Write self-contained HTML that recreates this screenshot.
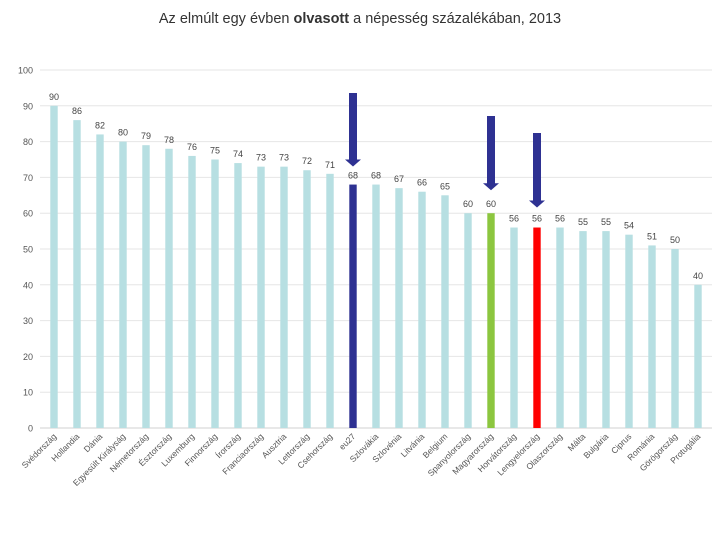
<!DOCTYPE html>
<html><head><meta charset="utf-8"><style>
body{margin:0;background:#fff;width:720px;height:540px;overflow:hidden;font-family:"Liberation Sans",sans-serif;}
</style></head><body>
<svg id="chart" width="720" height="540" xmlns="http://www.w3.org/2000/svg" font-family="Liberation Sans, sans-serif">
<text x="360" y="23" text-anchor="middle" font-size="14.5" fill="#333">Az elmúlt egy évben <tspan font-weight="bold">olvasott</tspan> a népesség százalékában, 2013</text>
<g id="grid"></g><g id="bars"></g><g id="labels"></g><g id="arrows"></g>
</svg>
<script>
const categories=["Svédország","Hollandia","Dánia","Egyesült Királyság","Németország","Észtország","Luxemburg","Finnország","Írország","Franciaország","Ausztria","Lettország","Csehország","eu27","Szlovákia","Szlovénia","Litvánia","Belgium","Spanyolország","Magyarország","Horvátország","Lengyelország","Olaszország","Málta","Bulgária","Ciprus","Románia","Görögország","Protugália"];
const values=[90,86,82,80,79,78,76,75,74,73,73,72,71,68,68,67,66,65,60,60,56,56,56,55,55,54,51,50,40];
const highlights={"eu27":"#2e3192","Magyarország":"#8cc63f","Lengyelország":"#ff0000"};
const arrowTargets=["eu27","Magyarország","Lengyelország"];
const arrowTops=[93,116,133];
const arrowGaps=[18,23,20];
const yTicks=[0,10,20,30,40,50,60,70,80,90,100];
const NS="http://www.w3.org/2000/svg";
const x0=40,x1=712,y0=428,y1=70,bx0=54,step=23,bw=7.4;
const y=v=>y0-(v/100)*(y0-y1);
const xc=i=>bx0+i*step;
function mk(t,a,p){const e=document.createElementNS(NS,t);for(const k in a)e.setAttribute(k,a[k]);p.appendChild(e);return e;}
const grid=document.getElementById('grid'),bars=document.getElementById('bars'),labels=document.getElementById('labels'),arrows=document.getElementById('arrows');
yTicks.forEach(t=>{
 const l=mk('line',{x1:x0,x2:x1,y1:y(t),y2:y(t),stroke:t===0?'#d0d0d0':'#e6e6e6','stroke-width':1},grid);
 
 
 const tx=mk('text',{x:33,y:y(t)+3.5,'text-anchor':'end','font-size':9,fill:'#555'},grid);
 tx.textContent=t;
 
 
});
categories.forEach((c,i)=>{
 const v=values[i];
 const r=mk('rect',{x:xc(i)-bw/2,y:y(v),width:bw,height:y0-y(v),fill:highlights[c]||'#b7dfe2'},bars);
 
 
 const vt=mk('text',{x:xc(i),y:y(v)-6,'text-anchor':'middle','font-size':9,fill:'#444'},labels);
 vt.textContent=v;
 
 
 const lt=mk('text',{x:0,y:0,'text-anchor':'end','font-size':8.5,fill:'#555',transform:`translate(${xc(i)+3},${y0+9}) rotate(-45)`},labels);
 lt.textContent=c;
 
 
});
arrowTargets.forEach((c,k)=>{
 const i=categories.indexOf(c);const cx=xc(i);
 const tipY=y(values[i])-arrowGaps[k];
 const t=arrowTops[k];const hs=tipY-7;
 const p=mk('polygon',{points:`${cx-4},${t} ${cx+4},${t} ${cx+4},${hs} ${cx+8},${hs} ${cx},${tipY} ${cx-8},${hs} ${cx-4},${hs}`,fill:'#2e3192'},arrows);
 
 
});
</script>
</body></html>
